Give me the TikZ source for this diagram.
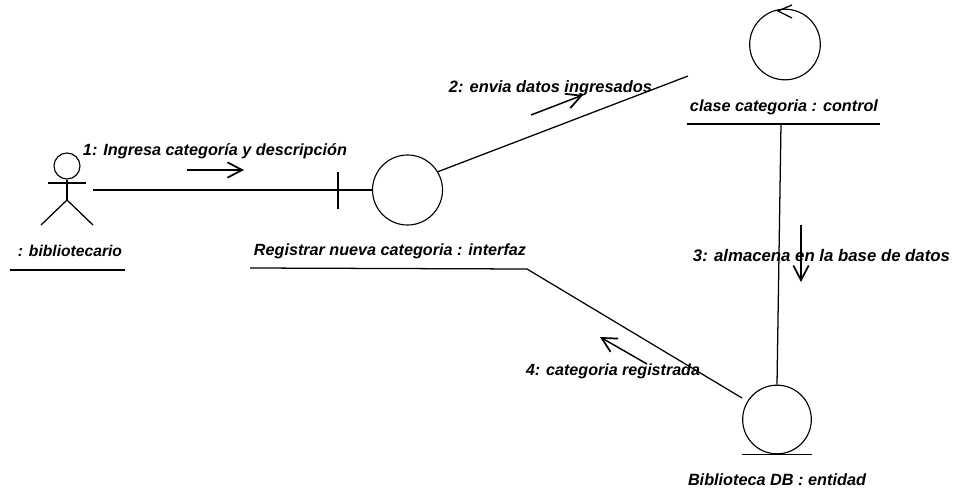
\documentclass[tikz,border=0pt]{standalone}
\usepackage{fontspec}
\setmainfont{Liberation Sans}
\usetikzlibrary{arrows.meta}
\newcommand{\lbl}[2]{\resizebox{0.75\dimexpr #1pt\relax}{!}{\bfseries\itshape #2}}
\tikzset{
  x=0.75pt,y=-0.75pt,
  line/.style={draw=black,line width=0.95pt},
  obj/.style={circle,draw=black,line width=0.85pt,inner sep=0pt,fill=none},
  msg/.style={draw=black,line width=1.1pt,-{Straight Barb[length=11pt,width=11.5pt,line width=1.3pt]}},
  txt/.style={inner sep=0pt,anchor=center,text=black}
}
\begin{document}
\begin{tikzpicture}
\useasboundingbox (0,0) rectangle (954,496);
% objects
\node[obj,minimum size=19.5pt] (head) at (67,166) {};
\node[obj,minimum size=52.5pt] (bnd) at (407.5,190) {};
\node[obj,minimum size=53pt] (ctl) at (785,44.5) {};
\node[obj,minimum size=51.5pt] (ent) at (777,419.5) {};
% labels
\node[txt] (l1) at (215,151.5) {\lbl{264}{1: Ingresa categoría y descripción}};
\node[txt] (lact) at (70,251) {\lbl{104}{: bibliotecario}};
\node[txt] (lbnd) at (390,251.5) {\lbl{272}{Registrar nueva categoria : interfaz}};
\node[txt] (l2) at (550.5,88.5) {\lbl{203}{2: envia datos ingresados}};
\node[txt] (lctl) at (784,107) {\lbl{188}{clase categoria : control}};
\node[txt] (l3) at (821.5,256) {\lbl{257}{3: almacena en la base de datos}};
\node[txt] (l4) at (613,371.5) {\lbl{174}{4: categoria registrada}};
\node[txt] (lent) at (777,480) {\lbl{178}{Biblioteca DB : entidad}};
% actor
\coordinate (neck) at (67,200);
\draw[line] (head.south) -- (neck);
\draw[line] (48,183) -- (86,183);
\draw[line] (neck) -- (41,225);
\draw[line] (neck) -- (93,225);
% underlines
\coordinate (ua1) at (10,270); \coordinate (ua2) at (125,270);
\coordinate (ub1) at (250,268); \coordinate (ub2) at (527,269);
\coordinate (uc1) at (687,124); \coordinate (uc2) at (880,124);
\coordinate (uc3) at (781,124);
\draw[line] (ua1) -- (ua2);
\draw[line] (ub1) -- (ub2);
\draw[line] (uc1) -- (uc2);
\draw[line] ([xshift=-26.25pt]ent.south) -- ([xshift=26.25pt]ent.south);
% boundary tick
\coordinate (tick) at (338,190);
\draw[line] (338,172) -- (338,209);
% control arrow mark
\coordinate (ctip) at (778,11);
\draw[line] (792,5) -- (ctip) -- (792,18);
% connectors
\coordinate (afree) at (93,190);
\coordinate (c2) at (688,76);
\coordinate (e4) at (742,398);
\draw[line] (afree) -- (tick) -- (bnd.west);
\draw[line] (bnd.31) -- (c2);
\draw[line] (uc3) -- (ent.north);
\draw[line] (ub2) -- (e4);
% message arrows
\coordinate (m1a) at (187,170); \coordinate (m1b) at (244,170);
\coordinate (m2a) at (531,115); \coordinate (m2b) at (583,95);
\coordinate (m3a) at (801,225); \coordinate (m3b) at (801,282);
\coordinate (m4a) at (647,364); \coordinate (m4b) at (600,337);
\draw[msg] (m1a) -- (m1b);
\draw[msg] (m2a) -- (m2b);
\draw[msg] (m3a) -- (m3b);
\draw[msg] (m4a) -- (m4b);
\end{tikzpicture}
\end{document}
